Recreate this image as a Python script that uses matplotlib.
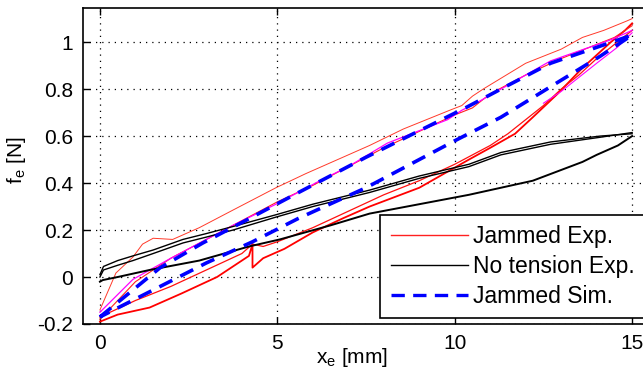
import matplotlib
matplotlib.use("Agg")
import matplotlib.pyplot as plt

plt.rcParams['font.family'] = ['Liberation Sans', 'DejaVu Sans']
plt.rcParams['mathtext.fontset'] = 'custom'
plt.rcParams['mathtext.rm'] = 'Liberation Sans'

red_up1_x = [0, 0.45, 0.93, 1.2, 1.5, 2.05, 2.8, 3.75, 4.96, 5.8, 6.7, 7.6, 8.55, 9.86, 10.2, 10.5,
             10.8, 12.0, 13.0, 13.6, 14.2, 14.85, 15.0]
red_up1_y = [-0.14, 0.017, 0.085, 0.14, 0.165, 0.16, 0.21, 0.285, 0.38, 0.44, 0.50, 0.56, 0.63, 0.71,
             0.73, 0.77, 0.80, 0.91, 0.97, 1.02, 1.05, 1.09, 1.10]
red_dn1_x = [15.0, 14.8, 14.4, 13.6, 12.9, 12.2, 11.7, 11.0, 10.4, 9.7, 9.0, 8.3, 7.6, 6.85, 6.0, 5.2,
             4.6, 4.3, 4.3, 4.2, 3.3, 2.3, 1.4, 0.5, 0.0]
red_dn1_y = [1.08, 1.05, 1.00, 0.89, 0.78, 0.68, 0.61, 0.55, 0.50, 0.44, 0.38, 0.34, 0.30, 0.25, 0.19,
             0.12, 0.08, 0.04, 0.14, 0.09, 0.0, -0.07, -0.13, -0.16, -0.19]
red_up2_x = [0, 1, 2, 3, 4, 5, 6, 7, 8, 9, 10, 10.5, 11, 12, 13, 14, 14.5, 15]
red_up2_y = [-0.18, -0.02, 0.08, 0.16, 0.24, 0.32, 0.39, 0.47, 0.55, 0.62, 0.69, 0.72, 0.78, 0.86,
             0.93, 0.99, 1.02, 1.07]
red_dn2_x = [15, 14.5, 14, 13.5, 13, 12.5, 12, 11.5, 11, 10.5, 10, 9, 8, 7, 6, 5, 4.6, 4.3, 4, 3, 2, 1, 0]
red_dn2_y = [1.05, 0.99, 0.93, 0.86, 0.80, 0.73, 0.67, 0.61, 0.56, 0.52, 0.48, 0.41, 0.35, 0.28, 0.21,
             0.15, 0.13, 0.14, 0.10, 0.03, -0.04, -0.10, -0.17]
mag_up_x = [0, 0.93, 2, 3, 3.75, 4.96, 6.2, 7, 8.1, 9.8, 10.2, 10.6, 11.3, 12.7, 14.4, 15]
mag_up_y = [-0.15, -0.01, 0.08, 0.16, 0.22, 0.31, 0.41, 0.47, 0.57, 0.67, 0.71, 0.74, 0.80, 0.92,
            1.01, 1.05]
mag_dn_x = [15, 14.6, 14, 13.5, 13, 12.5]
mag_dn_y = [1.04, 0.98, 0.91, 0.85, 0.79, 0.74]

# No tension experiment
blk_up_x = [0, 0.1, 0.5, 0.93, 1.5, 2.34, 3, 3.75, 4.96, 6, 7.6, 9, 10.4, 11.3, 12.7, 14.1, 15]
blk_up_y = [0.00, 0.03, 0.05, 0.07, 0.10, 0.145, 0.17, 0.20, 0.255, 0.30, 0.36, 0.42, 0.47, 0.52,
            0.565, 0.595, 0.615]
blk_up2_y = [0.01, 0.045, 0.07, 0.09, 0.115, 0.16, 0.185, 0.215, 0.265, 0.31, 0.37, 0.43, 0.48, 0.53,
             0.575, 0.60, 0.61]
blk_dn_x = [15, 14.6, 14, 13.6, 12.2, 11, 10.4, 9, 7.6, 6.5, 5.07, 4.2, 2.8, 1.4, 0.5, 0.08, 0]
blk_dn_y = [0.60, 0.56, 0.52, 0.49, 0.41, 0.37, 0.35, 0.31, 0.27, 0.22, 0.16, 0.13, 0.07, 0.03, 0.0,
            -0.013, -0.02]

# Jammed simulation
sim_x = [0, 1.7, 2.9, 4.1, 5.6, 7.5, 10.3, 11.3, 12.7, 15, 14.1, 12.7, 11.3, 10, 7.5, 5.6, 4.3, 3, 1.7, 0]
sim_y = [-0.17, 0.04, 0.145, 0.24, 0.36, 0.51, 0.72, 0.80, 0.91, 1.03, 0.94, 0.81, 0.68, 0.58,
         0.38, 0.25, 0.15, 0.06, -0.04, -0.17]

fig = plt.figure(figsize=(6.43, 3.77), dpi=100)
# right edge of the axes lies just past the picture, as in the original crop
ax = fig.add_axes([0.129, 0.1406, 0.882, 0.838])

ax.plot(red_up1_x, red_up1_y, color='#ff3a2a', lw=0.7)
ax.plot(red_dn1_x, red_dn1_y, color='#ff0000', lw=1.3)
ax.plot(red_up2_x, red_up2_y, color='#ff2020', lw=0.8)
ax.plot(red_dn2_x, red_dn2_y, color='#ff1010', lw=0.9)
ax.plot(mag_up_x, mag_up_y, color='#ff00ff', lw=0.9)
ax.plot(mag_dn_x, mag_dn_y, color='#ff00ff', lw=0.8)
ax.plot(blk_up_x, blk_up_y, color='black', lw=1.0)
ax.plot(blk_up_x, blk_up2_y, color='black', lw=1.0)
ax.plot(blk_dn_x, blk_dn_y, color='black', lw=1.4)
ax.plot(sim_x, sim_y, color='#0000ff', lw=2.6, dashes=(4, 2.5))

# legend proxies
h1, = ax.plot([], [], color='#ff2020', lw=1.0, label='Jammed Exp.')
h2, = ax.plot([], [], color='black', lw=1.0, label='No tension Exp.')
h3, = ax.plot([], [], color='#0000ff', lw=2.4, dashes=(4, 2.5), label='Jammed Sim.')

ax.set_xlim(-0.479, 15.506)
ax.set_ylim(-0.2, 1.145)
ax.set_xticks([0, 5, 10, 15])
ax.set_yticks([-0.2, 0, 0.2, 0.4, 0.6, 0.8, 1])
ax.set_yticklabels(['-0.2', '0', '0.2', '0.4', '0.6', '0.8', '1'])
ax.tick_params(direction='in', labelsize=15, length=5, width=1, top=True, right=True, pad=7)
ax.grid(True, color='black', linestyle=(0, (1, 4)), linewidth=0.9)
for s in ax.spines.values():
    s.set_linewidth(1.2)

ax.set_xlabel('x$_\\mathregular{e}$ [mm]', fontsize=15)
ax.xaxis.set_label_coords(0.475, -0.07)
ax.xaxis.label.set_va('top')
ax.set_ylabel('f$_\\mathregular{e}$ [N]', fontsize=15)
ax.yaxis.label.set_va('center')
ax.yaxis.set_label_coords(-0.118, 0.52)

leg = ax.legend(handles=[h1, h2, h3], loc='lower right', bbox_to_anchor=(0.992, 0.019),
                fontsize=16.5, frameon=True, fancybox=False, framealpha=1, borderaxespad=0,
                handlelength=3.4, handletextpad=0.22, labelspacing=0.3, borderpad=0.45)
leg.get_frame().set_edgecolor('black')
leg.get_frame().set_linewidth(1.2)

fig.savefig('out.png', dpi=100)
